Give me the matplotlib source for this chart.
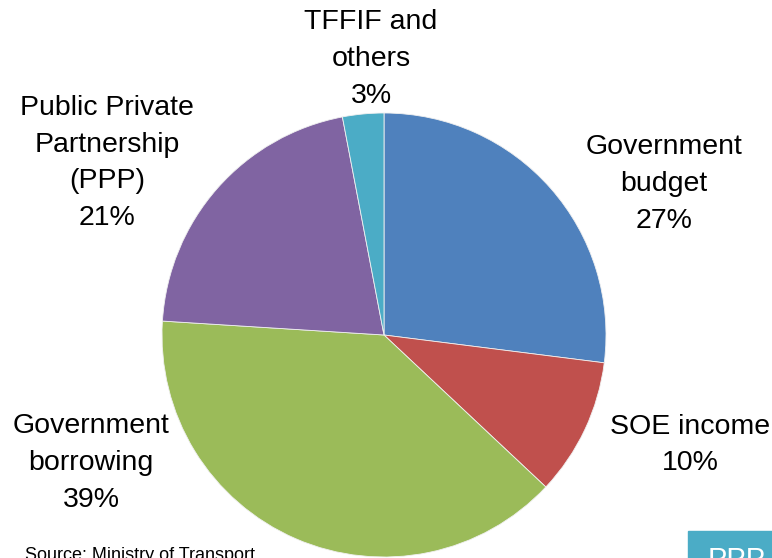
import matplotlib
matplotlib.use("Agg")
import matplotlib.pyplot as plt
from matplotlib.patches import Rectangle

categories = ["Government\nbudget", "SOE income", "Government\nborrowing",
              "Public Private\nPartnership\n(PPP)", "TFFIF and\nothers"]
values = [27, 10, 39, 21, 3]
colors = ["#4F81BD", "#C0504D", "#9BBB59", "#8064A2", "#4BACC6"]
# label centre positions in pixels (x from left, y from top)
label_pos = [(664, 184), (690, 445), (91, 463), (107, 163), (371, 59)]

W, H = 772, 558
fig = plt.figure(figsize=(W / 100, H / 100), dpi=100)
cx, cy, r = 384, 335, 222
ax = fig.add_axes([(cx - r) / W, (H - cy - r) / H, 2 * r / W, 2 * r / H])
ax.pie(values, colors=colors, startangle=90, counterclock=False,
       wedgeprops=dict(edgecolor="#f0f0f0", linewidth=0.6))
ax.set_xlim(-1, 1)
ax.set_ylim(-1, 1)
ax.set_aspect("equal")
ax.axis("off")

font = "Liberation Sans"
for cat, v, (x, y) in zip(categories, values, label_pos):
    fig.text(x / W, 1 - y / H, f"{cat}\n{v}%", ha="center", va="center",
             fontsize=20.5, family=font, linespacing=1.53, color="#000000")

fig.text(25 / W, 1 - 547 / H, "Source: Ministry of Transport", ha="left", va="top",
         fontsize=13, family=font, color="#000000")
fig.patches.append(Rectangle((688 / W, 0), 1 - 688 / W, (H - 531) / H,
                             transform=fig.transFigure, color="#4BACC6", zorder=0))
fig.text(708 / W, 1 - 546 / H, "PPP", ha="left", va="top", fontsize=21,
         family=font, color="white")

fig.savefig("out.png", dpi=100)
